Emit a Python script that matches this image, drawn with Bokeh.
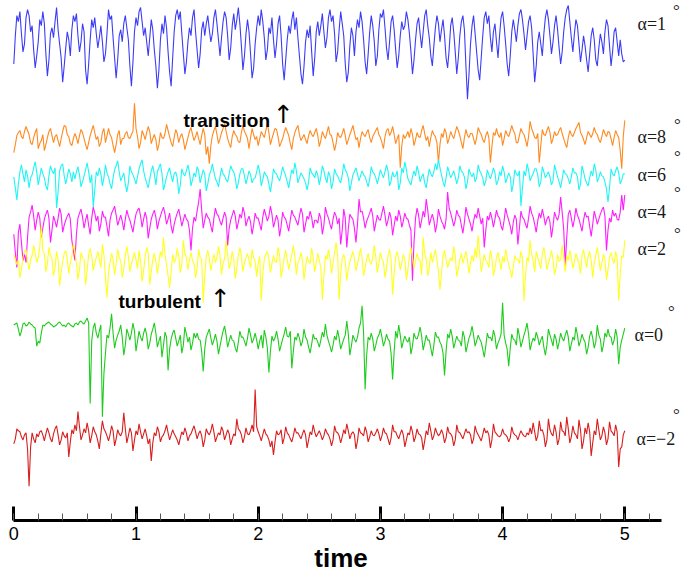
import numpy as np
from bokeh.plotting import figure
from bokeh.models import Range1d, LinearAxis, SingleIntervalTicker
from bokeh.core.properties import value
from bokeh.embed import file_html
from bokeh.resources import INLINE

T_END = 5.0  # signals run from time 0 to 5

# fluctuation of each signal (screen-scale units, positive = up), sampled every 0.0125
alpha1 = [-18, 10, 30, 24, 34, 12, -6, 2, 28, 36, 30, 14, 20, -4, -22, -10, 4, 26, 20, 34,
          22, -8, -30, -14, 12, 18, 8, 24, 38, 16, 2, -12, -36, -20, -2, 14, 6, -10, 16, 30,
          24, 32, 10, -6, 4, 22, 14, -24, -38, -18, 6, 26, 18, 28, 12, -2, 8, 20, 4, -16,
          -8, 12, 36, 26, 30, 8, -12, -32, -14, 10, 16, 4, 22, 30, 18, 6, -20, -40, -16, 14,
          28, 20, 34, 38, 24, 10, 18, 4, -10, 8, 26, 16, -4, -20, -42, -24, 6, 22, 12, 30,
          18, -6, -26, -40, -12, 14, 30, 36, 26, 34, 12, -8, -28, -16, 4, 18, 10, 28, 36, 14,
          -4, -22, -8, 16, 24, 10, 22, 30, 16, 4, 12, 28, 36, 22, 6, -10, 8, 24, 34, 28,
          10, -14, -2, 20, 32, 16, 26, 38, 22, 0, -24, -10, 12, 26, 14, -8, -32, -22, 2, 18,
          30, 20, 36, 24, 8, -14, -4, 18, 12, 28, 6, -12, 2, 22, 30, 10, -18, -34, -14, 6,
          20, 12, 26, 34, 16, 28, 8, -10, -28, -38, -20, 4, 16, 8, 20, -6, -30, -12, 14, 24,
          10, 20, 32, 14, -2, 8, 28, 36, 24, 30, 12, -16, -6, 16, 34, 22, 10, -18, -36, -26,
          0, 18, 10, -10, 14, 26, 18, 34, 24, 6, -16, -28, -8, 14, 30, 20, 4, -20, -10, 16,
          32, 28, 36, 18, -2, -14, 4, 24, 30, 16, -4, -22, -10, 10, 24, 16, 20, 34, 26, 12,
          -6, -28, -14, 6, 22, 28, 12, -2, 14, 30, 36, 20, 8, -10, -20, 0, 18, 30, 22, 4,
          16, 26, 10, -12, -22, -4, 20, 28, 14, -6, -28, -12, 10, 24, 30, 16, -20, -53, -28, 2,
          20, 30, 12, -6, -24, -34, -12, 10, 28, 34, 22, 30, 8, -6, 14, 22, 4, -12, 10, 28,
          34, 20, 2, -18, -30, -10, 14, 26, 16, 4, 20, 32, 36, 26, 12, -4, 10, 24, 30, 18,
          -8, -36, -20, 4, 14, 2, -10, 12, 28, 36, 26, 10, -8, 4, 20, 30, 16, -2, -18, -6,
          14, 28, 36, 40, 24, 8, -6, 12, 26, 20, 2, -16, -4, 10, 0, -14, -26, -8, 10, 18,
          6, -14, -20, -2, 12, 4, -8, 14, 26, 20, 0, -20, -6, 14, 18, 4, -10, 6, -8, -16,
          -14]

alpha8 = [-12, -4, 5, 8, 10, 4, 2, 9, 14, 10, 6, -2, -4, 3, 8, 12, -8, -3, 0, 6,
          -10, -4, 3, 9, 12, 5, -2, 4, 6, 0, -6, 2, 9, 15, 14, 6, 4, -3, -5, 2,
          7, 3, -3, 5, 11, 8, 2, -4, -9, -2, 5, 10, 15, 8, 1, 4, -6, -2, 8, 12,
          -2, 5, 12, 6, 3, -5, -12, -4, 6, 10, -4, 2, 2, 7, 9, 3, 2, 6, 9, 37,
          12, 4, -8, -2, 10, 6, 1, 8, 14, 9, -3, 2, 6, 1, -10, -4, 8, 3, 2, 7,
          16, 10, 4, -2, -6, 3, 11, 7, -2, 4, 7, 1, -9, -3, 3, 9, 13, 6, 0, 4,
          9, 2, -4, 5, 12, 6, -14, -6, -23, -5, 5, 10, 14, 6, -3, 2, 8, 12, 18, 9,
          2, -3, -7, 4, 10, 6, 4, -1, -2, 8, 15, 9, 6, 2, -8, 3, 12, 6, 1, 4,
          -5, 2, 9, 6, 3, 10, 16, 8, -4, 2, 7, 12, 11, 4, -6, -2, 2, 8, 13, 9,
          5, -3, -9, 2, 8, 12, 15, 6, 0, 3, 6, 1, -3, 5, 10, 6, 4, 8, 12, 5,
          -6, 0, 9, 5, 2, 8, 14, 6, 5, -2, -10, -3, 8, 4, 3, 7, 12, 5, -4, 1,
          6, 10, 15, 8, 1, 3, -7, 2, 9, 6, 4, 8, 11, 3, -2, 4, 7, 10, 13, 6,
          3, -2, -8, 4, 10, 12, 5, 8, 14, 6, -3, 2, 6, -27, -5, 6, 2, 5, 9, 3,
          12, 6, -5, 1, 8, 4, 3, 10, 15, 7, 0, 4, -6, 3, 10, 6, 4, -2, -22, -4,
          7, 3, 12, 8, -3, 2, 9, 5, 2, 8, 14, 10, 5, -2, -8, 3, 11, 5, 3, 7,
          7, 2, -4, 3, 13, 9, 6, 1, -2, 5, 9, 3, -22, -6, 8, 5, 12, 6, 3, 8,
          -5, 2, 10, 6, 4, 9, 15, 10, 7, -2, -2, 5, 12, 8, 6, 1, -6, 4, 19, 12,
          8, 3, 2, 7, -22, -5, 11, 6, 5, 10, 14, 8, -3, 2, 9, 5, 6, 10, 13, 7,
          2, -3, -7, 3, 10, 6, 4, 8, 12, 15, 18, 8, 5, 1, -4, 3, 9, 6, 3, 7,
          13, 8, 6, 1, -2, 4, 11, 7, 4, 9, 8, 2, -5, 3, 10, 6, 3, -10, -28, 4,
          20]

alpha6 = [3, -8, -20, -4, 8, 15, 6, -2, 10, 4, -8, 2, 5, 12, 18, 8, -5, 3, 12, 6,
          2, -6, -10, 4, 14, 9, 6, 12, -28, -12, 9, 14, 16, 4, -4, 3, 11, 6, -2, 8,
          1, 8, 13, 5, -7, -2, 4, 10, 17, 8, -3, 5, -27, -10, 8, 4, 12, 6, -6, 2,
          15, 7, 3, -4, -9, 2, 10, 14, 19, 8, -1, 3, 7, -4, -12, -3, 14, 8, 5, 1,
          -4, 3, 11, 16, 20, 9, 2, -3, -8, 1, 9, 14, 6, -5, 8, 12, 16, 6, -10, -4,
          3, 8, 12, 4, -2, 6, 8, 2, -14, -5, 11, 6, 4, 9, 15, 7, -6, 0, 7, 3,
          13, 9, -3, 4, 10, 6, -11, -4, 5, 9, 16, 8, 1, -2, -7, 3, 12, 6, 4, 0,
          -2, 6, 14, 10, 8, 2, -9, -3, 6, 11, 11, 4, -4, 2, 9, 5, -3, 1, 2, 8,
          15, 8, -6, 0, 8, 5, 3, -4, -12, -2, 11, 7, 6, 2, -1, 5, 13, 8, 4, -2,
          -8, 2, 10, 6, 17, 9, -3, 2, 7, 4, 1, -3, -10, -2, 12, 7, 5, 2, 9, 5,
          -5, 3, 14, 9, 2, -3, 8, 4, -9, -2, 11, 6, 4, 0, -3, 5, 16, 10, 7, 2,
          -11, -3, 5, 8, 12, 6, -1, 4, 9, 5, 3, -2, -7, 1, 13, 8, 6, 2, -4, 3,
          10, 6, 2, 8, 15, 9, -6, -1, 8, 3, 4, 9, -10, -3, 12, 7, 18, 10, 1, -2,
          -5, 3, 9, 4, 14, 8, -2, 3, 6, -3, -8, 2, 11, 6, 3, 8, 16, 10, 20, 12,
          5, -2, -7, 2, 13, 8, 2, 5, 9, 3, -4, 2, 14, 9, 7, 3, -9, -2, 11, 6,
          3, 7, -2, 2, 15, 9, 6, 2, -6, -1, 10, 5, 1, 6, 12, 7, -5, -1, 8, 4,
          14, 8, -3, 2, 7, 3, -12, -4, 10, 6, 4, 9, -26, -8, 9, 4, 16, 10, -1, 3,
          6, 11, 11, 5, -7, -2, 13, 8, 2, 5, 8, 3, -5, -1, 15, 9, 3, -2, -8, 1,
          10, 6, 5, 1, -4, 3, 12, 7, 7, 3, -10, -4, 14, 8, 1, -3, -6, 2, 9, 4,
          16, 10, -2, 2, 8, 4, 3, -2, -9, -22, -8, 11, 6, 4, 9, 13, 7, -4, 0, 6,
          6]

alpha4 = [-12, -30, -45, -10, -2, -20, -38, -32, -40, -15, 5, 10, 17, 6, -8, 2, 10, 4, -15, -6,
          3, 8, 12, 4, -20, -8, 6, 1, -5, 4, 14, 8, -10, -3, 2, 6, 9, 3, -18, -28,
          -38, -12, 4, 9, 13, 5, -6, 2, 8, -3, -12, 4, 15, 9, 1, 6, -9, -2, 11, 5,
          5, -4, -14, 2, 9, 12, 16, 7, -3, 2, 7, 1, -8, 3, 12, 6, 2, -4, -10, 0,
          8, 12, 14, 6, -5, 3, 10, 4, -16, -6, 3, 8, 12, 5, -7, 1, 6, 11, 15, 8,
          -2, 3, 9, -4, -11, -2, 4, 9, 13, 5, -4, 2, 8, 3, 1, -8, -28, -6, 5, 1,
          11, 20, 33, 12, -6, 2, 9, 5, 3, -4, -10, 4, 14, 8, 6, 1, -3, 4, 10, 5,
          -23, -6, 2, 7, 12, 6, -7, 0, 8, 4, 15, 9, -4, 2, 6, 0, -12, -3, 9, 4,
          4, -2, -8, 5, 13, 7, 1, 6, 16, 8, -5, 1, 7, 2, -14, -4, 10, 5, 3, -3,
          -9, 2, 12, 7, 5, 1, -3, 6, 14, 8, -10, -2, 6, 3, 11, 5, -6, 2, 2, -1,
          9, 4, -12, -3, 15, 8, 4, -2, -7, 3, 10, 6, -2, 4, -22, -8, 13, 4, -25, -6,
          8, 5, 3, -6, -20, -2, 23, 10, 11, 4, -6, 1, 5, 9, 14, 6, -9, -1, 7, 3,
          2, 9, 16, 7, -4, 2, 10, 4, -13, -3, 6, 1, 12, 6, -5, 1, 9, 4, 3, -3,
          -8, -58, -20, 4, 14, 7, -6, 2, 11, 5, 23, 12, -3, 3, 8, 2, -10, -2, 13, 6,
          1, -2, -7, 3, 30, 14, 9, 3, -4, 2, 12, 7, 5, -3, -11, 0, 15, 8, 3, -2,
          -9, 1, 8, 4, 14, 6, -2, 4, -25, -8, 6, 2, 10, 4, -5, 3, 12, 6, 4, -4,
          -8, 2, 14, 7, 2, -4, -12, 0, 7, 3, -22, -6, 11, 5, 3, -2, -6, 4, 16, 9,
          5, -2, -10, 1, 9, 4, 13, 6, -3, 3, 6, 0, -15, -4, 10, 5, 2, 8, 25, 10,
          -7, -43, -15, 8, 12, 4, -5, 3, 14, 7, 3, -3, -9, 2, 10, 5, 6, -4, -14, -2,
          11, 5, -2, 3, 8, 12, 15, 6, -28, -8, 4, 0, 12, 6, 9, 3, 2, 10, 27, 12,
          27]

alpha2 = [11, 6, 1, 5, -12, -4, 8, 14, 16, 4, -4, 6, 10, 20, 12, 3, 8, 18, 40, 15,
          12, -6, 2, 18, 10, 7, -10, -2, 14, 6, -20, -6, 4, 12, 15, 6, -8, 3, 9, 22,
          14, 2, -14, -4, 13, 8, 6, -19, -5, 11, 17, 9, -5, 2, 8, 14, 6, -2, 21, 10,
          -12, -32, -8, 3, 12, 6, -9, 2, 16, 8, 5, -12, -3, 10, 19, 9, -6, 2, 7, 13,
          6, -3, 15, 4, -16, -5, 9, 18, 12, -19, -6, 6, 12, 4, -8, 3, 14, 8, 28, 10,
          1, -10, -22, -6, 11, 3, 6, 17, 9, -7, 2, 25, 12, 8, -4, 6, 13, 5, 2, -12,
          -3, 16, 8, 6, -37, -10, 9, 15, 7, -5, 4, 11, 3, 8, 19, 10, -9, 2, 7, 25,
          10, -3, 3, 14, 6, -13, -2, 10, 18, 9, -6, 3, 8, 12, 5, -2, 16, 8, 4, -11,
          2, 9, -35, -8, 6, 11, 14, 6, -7, 2, 10, 4, 3, 18, 10, -12, -3, 8, 15, 6,
          -4, 4, 11, 20, 9, -9, 3, 6, 13, 5, -14, -2, 9, 4, 2, 17, 8, -6, 3, 12,
          5, -2, -34, -10, 10, 6, 16, 7, -8, 3, 13, 23, 10, -34, -8, 7, 11, 4, -15, -3,
          4, 9, 14, 6, -5, 2, 9, 17, 8, -10, -2, 6, 12, 4, 1, 9, 20, 8, -7, 2,
          13, 6, 4, -12, -3, 10, 16, 6, -29, -8, 8, 14, 6, -4, 3, 11, 6, -14, -4, 9,
          18, 8, -3, 5, 12, 6, 5, -9, 28, 12, 7, -10, -2, 13, 3, 9, 16, 6, -6, -24,
          -8, 10, 15, 6, -2, 3, 8, 4, 19, 10, -11, -3, 6, 12, 2, 8, 14, 6, -8, 3,
          10, 4, 17, 8, 30, 12, -6, 2, 11, 5, 3, -2, 15, 8, -10, -3, 8, 13, 5, -4,
          9, 3, 16, 8, 1, -5, -12, -2, 10, 6, 6, 2, 14, 8, -35, -10, 8, 4, 25, 12,
          4, -6, 14, 8, 3, -3, 12, 18, 9, -4, 2, 8, 15, 6, -9, -2, 11, 4, 6, 20,
          8, -6, 10, 5, 15, 8, -3, 4, 12, 7, 2, -8, 10, 16, 6, -2, 9, 14, 5, -12,
          3, 10, 18, 7, -5, 2, 11, 6, -14, -4, 8, 13, 6, 2, 14, 7, -35, -8, 10, 8,
          25]

alpha0 = [18, 19, 20, 14, 7, 12, 19, 20, 17, 18, 21, 19, 18, 16, 15, -3, 2, 0, 10, 18,
          17, 19, 20, 21, 19, 18, 16, 17, 18, 20, 21, 19, 17, 18, 16, 19, 20, 18, 17, 16,
          19, 20, 18, 21, 22, 20, 19, 22, 25, 20, -60, 2, 15, 20, 10, 5, 12, 18, -73, -30,
          -10, 8, 5, 15, 29, 10, -5, 3, 8, 12, 18, 6, -12, -2, 14, 9, 3, 10, 20, 12,
          -8, 2, 12, 6, 2, 10, 15, 8, -6, 0, 9, 14, 20, 10, -4, 2, 7, -14, -2, 11,
          6, -27, -6, 4, 10, 13, 5, -3, 2, 8, -10, -2, 16, 9, 1, 6, -7, 0, 10, 5,
          10, 4, 3, -8, -28, -6, 6, 10, 14, 5, -2, 3, 9, 2, -11, -3, 5, 12, 17, 8,
          -4, 2, 8, 3, 2, -5, -9, 1, 12, 6, 6, 2, -3, 5, 15, 8, 0, 4, 10, 3,
          -6, 2, 8, -5, 13, 6, -5, -29, -8, 7, 2, 5, 12, 4, -8, -2, 4, 9, 16, 7,
          6, 12, -25, -8, 6, 3, 10, 5, -3, 2, 14, 6, 3, -4, -10, -1, 9, 4, 5, 1,
          -4, 3, 11, 6, 19, 8, 2, -3, -9, -2, 7, 3, 13, 5, -6, -1, 4, 8, 22, 9,
          -12, -3, 8, 4, 1, 6, 15, 20, 37, 10, -46, -12, 6, 3, 10, 4, -8, -2, 5, 8,
          14, 6, -3, 2, 9, 4, 2, -10, -36, -8, 12, 5, 18, 8, -5, 2, 7, 3, 1, 6,
          -11, -3, 10, 5, 4, 9, 16, 7, -7, 0, 8, 3, 3, -5, -13, -2, 11, 6, 6, 1,
          -2, -10, -32, -8, 9, 5, 14, 7, -5, 1, 7, 3, 2, -3, 12, 6, -9, -2, 5, 9,
          17, 8, -3, 2, 8, 4, 1, -6, -14, -3, 10, 5, 6, 2, 13, 7, -6, 0, 4, 9,
          40, 8, 0, -6, -23, -5, 9, 4, 3, -2, 15, 7, -4, 2, 8, 13, 20, 9, -7, 0,
          5, 2, 11, 6, -2, 3, 7, -4, -12, -2, 14, 8, 3, -3, 9, 4, -6, 1, 10, 5,
          2, 8, 13, 6, -8, -1, 6, 3, 16, 8, -3, 2, 9, 4, 1, -11, -4, 7, 12, 5,
          -5, 1, 18, 8, 4, -9, -2, 10, 6, 14, 7, 6, -2, 3, 14, 6, -21, -4, 3, 9,
          15]

alpham2 = [-7, -2, 8, 6, 5, 0, -3, 2, 4, -12, -49, -10, 4, -2, -6, 3, 0, 5, 6, 2,
           -4, 3, 9, 4, -2, -5, 3, 8, 11, 2, -8, -3, 5, 1, -1, 4, -20, -5, 7, 3,
           12, 6, 25, 10, -3, 2, 8, 4, 14, 6, -6, 1, 10, 5, 2, -4, -12, 3, 16, 8,
           5, 1, -4, 2, 11, 6, -9, -2, 7, 3, 1, 5, 24, 8, -6, 1, 9, 4, -14, -3,
           6, 2, 13, 5, -2, 3, 8, 1, -7, -2, -24, -6, 4, 1, 10, 5, -5, 0, 2, 6,
           12, 4, -3, 2, 7, 3, 0, -3, -8, -1, 5, 2, 9, 4, -4, 1, 3, 7, 11, 5,
           -2, 3, 6, 1, -10, -3, 8, 4, 2, 6, 13, 5, -5, 0, 4, 2, 10, 6, -3, 2,
           7, 3, -8, -2, 3, 1, 18, 8, 6, 2, -6, 0, 9, 3, 2, 6, 12, 5, 47, 10,
           5, 1, -4, 2, 8, 3, 1, -3, -10, -4, -18, -5, 6, 2, 3, 7, -7, -1, 10, 4,
           2, -2, -5, 1, 9, 4, 4, 1, -2, 3, 7, 2, -11, -3, 5, 2, 12, 5, 0, 3,
           6, 2, -3, 1, 8, 4, 2, -2, -9, -3, 11, 5, 4, 1, -6, 0, 7, 3, 13, 6,
           -2, 3, 5, 2, -12, -4, 9, 4, 3, 1, 10, 5, -5, 0, 6, 2, 1, 4, 8, 3,
           -4, 1, 9, 4, 3, -2, -8, -1, 12, 5, 5, 1, -2, 3, 7, 2, -10, -3, 4, 2,
           11, 5, -5, 0, 8, 3, 2, -1, -13, -4, 6, 2, 14, 6, -3, 1, 9, 4, 1, 3,
           7, 3, -6, -1, 10, 4, 3, 0, -9, -3, 12, 5, 4, 1, -2, 3, 8, 4, 5, 2,
           -7, -2, 11, 5, 2, -1, -4, 2, 9, 4, 6, 2, -11, -3, 13, 5, 3, 1, 0, 2,
           8, 3, 2, 0, -5, -1, 10, 4, 2, 1, -3, 2, 6, 3, 1, 0, 4, 2, 9, 3,
           14, 5, -4, 1, 16, 6, 7, 2, -10, -3, 18, 7, 3, 1, 12, 5, -8, -2, 15, 6,
           5, 1, 20, 8, -6, 0, 11, 4, 2, -2, 17, 7, -12, -4, 9, 3, 14, 5, -19, -6,
           6, 2, 18, 7, -3, 1, 10, 4, -8, -2, 15, 6, 4, 1, 12, 5, -30, -12, -10, 2,
           6]

series = [alpha1, alpha8, alpha6, alpha4, alpha2, alpha0, alpham2]
series_labels = ["α=1", "α=8", "α=6", "α=4", "α=2", "α=0", "α=−2"]
baselines = [45, 139, 178, 220, 263, 340, 433]   # vertical stacking (down from top)
colors = ["#3c3cf8", "#ff8a1e", "#1ff5f5", "#ff1eff", "#ffff1e", "#1ecc1e", "#d81e1e"]
tick_labels = ["0", "1", "2", "3", "4", "5"]

PX0, PXU = 13.3, 122.2   # screen x of t=0 and pixels per time unit
FRAME_H = 516


def sx(px):
    return (px - PX0) / PXU


def sy(py):
    return -py


p = figure(width=681, height=575, output_backend="svg", toolbar_location=None,
           x_range=Range1d(sx(0), sx(681)), y_range=Range1d(-FRAME_H, 0),
           x_axis_location=None, y_axis_location=None,
           min_border_left=0, min_border_right=0, min_border_top=0, min_border_bottom=0)
p.outline_line_color = None
p.xgrid.visible = False
p.ygrid.visible = False
p.background_fill_color = "white"
p.border_fill_color = "white"

for vals, base, col in zip(series, baselines, colors):
    t = np.linspace(0, T_END, len(vals))
    y = -base + np.array(vals, dtype=float)
    p.line(t, y, line_color=col, line_width=1.1)

axis = LinearAxis(ticker=SingleIntervalTicker(interval=1, num_minor_ticks=5),
                  bounds=(0, 5.3), axis_label="time")
axis.major_label_overrides = {i: s for i, s in enumerate(tick_labels)}
axis.axis_line_width = 3
axis.axis_line_color = "black"
axis.major_tick_in = 14
axis.major_tick_out = 0
axis.major_tick_line_width = 3
axis.major_tick_line_color = "black"
axis.minor_tick_in = 7
axis.minor_tick_out = 0
axis.minor_tick_line_width = 1
axis.minor_tick_line_color = "#555555"
axis.major_label_text_font = "Liberation Sans"
axis.major_label_text_font_size = "18px"
axis.major_label_text_color = "black"
axis.major_label_standoff = 6
axis.axis_label_text_font = "Liberation Sans"
axis.axis_label_text_font_size = "26px"
axis.axis_label_text_font_style = "bold"
axis.axis_label_text_color = "black"
axis.axis_label_standoff = 0
p.add_layout(axis, "below")

# series labels on the right
lab_px = [(637, 23), (637, 135), (637, 173), (637, 210), (637, 247), (634, 332), (636, 435)]
deg_px = [(676, 10), (677, 123), (677, 155), (677, 191), (677, 231), (671, 309), (676, 411)]
p.text(x=[sx(a) for a, b in lab_px], y=[sy(b) for a, b in lab_px], text=series_labels,
       text_font=value("Liberation Serif"), text_font_size="18px",
       text_baseline="middle", text_align="left", text_color="#1a1a1a")
p.text(x=[sx(a) for a, b in deg_px], y=[sy(b) for a, b in deg_px], text=["°"] * 7,
       text_font=value("Liberation Serif"), text_font_size="17px",
       text_baseline="middle", text_align="center", text_color="#1a1a1a")

# annotations
p.text(x=[sx(183), sx(118)], y=[sy(119), sy(299)], text=["transition", "turbulent"],
       text_font=value("Liberation Sans"), text_font_size="19px", text_font_style="bold",
       text_baseline="middle", text_align="left", text_color="black")
p.text(x=[sx(283), sx(220)], y=[sy(113), sy(296)], text=["↑", "↑"],
       text_font=value("DejaVu Sans"), text_font_size="25px",
       text_baseline="middle", text_align="center", text_color="black")

open("out.html", "w").write(file_html(p, INLINE))
